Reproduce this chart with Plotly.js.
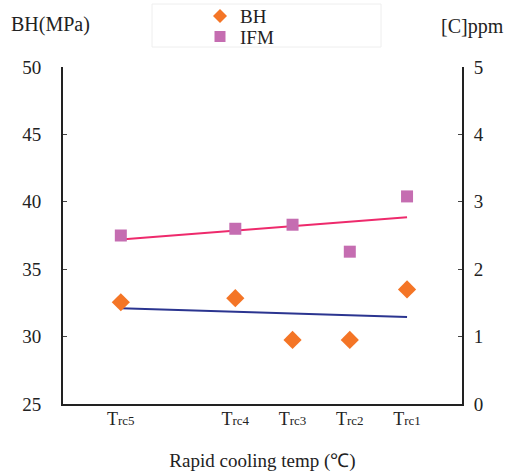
<!DOCTYPE html>
<html>
<head>
<meta charset="utf-8">
<script src="https://cdn.plot.ly/plotly-3.0.1.min.js"></script>
<style>html,body{margin:0;padding:0;background:#fff;}#chart{width:510px;height:474px;}</style>
</head>
<body>
<div id="chart"></div>
<script>
// Categories (rapid cooling temperature levels) and their spacing along the x axis
var categories = ["Trc5", "Trc4", "Trc3", "Trc2", "Trc1"];
var catPos = [0, 2, 3, 4, 5];

// BH (MPa), left axis
var bhValues = [32.55, 32.85, 29.75, 29.75, 33.5];
// IFM ([C] ppm), right axis
var ifmValues = [2.5, 2.6, 2.66, 2.26, 3.08];

// Trend lines (end points)
var trendCats = ["Trc5", "Trc1"];
var bhTrend = [32.1, 31.45];
var ifmTrend = [2.44, 2.77];

var seriesNames = ["BH", "IFM"];

function posOf(c) { return catPos[categories.indexOf(c)]; }
function tickLabel(c) {
  return c.charAt(0) + "<span style='font-size:13px'>" + c.slice(1) + "</span>";
}

var FONT = "Liberation Serif";
var BH_COLOR = "#F47526", IFM_COLOR = "#C56DB1";

var traces = [
  {
    x: trendCats.map(posOf), y: bhTrend, yaxis: "y",
    mode: "lines", line: {color: "#2B3590", width: 2}, showlegend: false, hoverinfo: "skip"
  },
  {
    x: trendCats.map(posOf), y: ifmTrend, yaxis: "y2",
    mode: "lines", line: {color: "#EE2A6C", width: 2}, showlegend: false, hoverinfo: "skip"
  },
  {
    name: seriesNames[0], x: categories.map(posOf), y: bhValues, yaxis: "y",
    mode: "markers", marker: {symbol: "diamond", size: 14, color: BH_COLOR}, showlegend: false
  },
  {
    name: seriesNames[1], x: categories.map(posOf), y: ifmValues, yaxis: "y2",
    mode: "markers", marker: {symbol: "square", size: 12, color: IFM_COLOR}, showlegend: false
  }
];

// pixel -> paper helpers for the legend box
var PL = 63, PR = 462, PT = 67, PB = 404;
function px(x) { return (x - PL) / (PR - PL); }
function py(y) { return (PB - y) / (PB - PT); }

var legendShapes = [
  {type: "rect", xref: "paper", yref: "paper",
   x0: px(152), x1: px(381), y0: py(47), y1: py(4),
   line: {color: "#eeeeee", width: 1}, fillcolor: "rgba(0,0,0,0)", layer: "below"},
  {type: "path", xref: "paper", yref: "paper",
   path: "M" + px(220) + "," + py(9) + " L" + px(227) + "," + py(16) + " L" + px(220) + "," + py(23) + " L" + px(213) + "," + py(16) + " Z",
   fillcolor: BH_COLOR, line: {width: 0}},
  {type: "rect", xref: "paper", yref: "paper",
   x0: px(214.5), x1: px(225.5), y0: py(42), y1: py(31),
   fillcolor: IFM_COLOR, line: {width: 0}}
];

var layout = {
  width: 510, height: 474,
  margin: {l: PL, r: 510 - PR, t: PT, b: 474 - PB, pad: 0, autoexpand: false},
  paper_bgcolor: "#fff", plot_bgcolor: "#fff",
  font: {family: FONT, size: 18, color: "#222"},
  showlegend: false,
  xaxis: {
    range: [-1.01, 5.96], automargin: false,
    tickvals: catPos, ticktext: categories.map(tickLabel),
    showgrid: false, zeroline: false,
    showline: true, linecolor: "#222", linewidth: 2,
    ticks: "", ticklabelstandoff: -3,
    tickfont: {family: FONT, size: 18, color: "#222"},
    title: {text: "Rapid cooling temp (℃)", font: {family: FONT, size: 19, color: "#222"}, standoff: 26}
  },
  yaxis: {
    range: [25, 50], dtick: 5, automargin: false,
    showgrid: false, zeroline: false,
    showline: true, linecolor: "#222", linewidth: 2,
    ticks: "inside", ticklen: 4, tickcolor: "#444", tickwidth: 1,
    ticklabelstandoff: 16,
    tickfont: {family: FONT, size: 19, color: "#222"}
  },
  yaxis2: {
    range: [0, 5], dtick: 1, overlaying: "y", side: "right", automargin: false,
    showgrid: false, zeroline: false,
    showline: true, linecolor: "#222", linewidth: 2,
    ticks: "inside", ticklen: 4, tickcolor: "#444", tickwidth: 1,
    ticklabelstandoff: 6,
    tickfont: {family: FONT, size: 19, color: "#222"}
  },
  shapes: legendShapes,
  annotations: [
    {text: seriesNames[0], xref: "paper", yref: "paper", x: px(238), y: py(16),
     xanchor: "left", yanchor: "middle", showarrow: false,
     font: {family: FONT, size: 19, color: "#222"}},
    {text: seriesNames[1], xref: "paper", yref: "paper", x: px(238), y: py(37),
     xanchor: "left", yanchor: "middle", showarrow: false,
     font: {family: FONT, size: 19, color: "#222"}},
    {text: "BH(MPa)", xref: "paper", yref: "paper", x: px(50), y: py(25),
     xanchor: "center", yanchor: "middle", showarrow: false,
     font: {family: FONT, size: 20, color: "#222"}},
    {text: "[C]ppm", xref: "paper", yref: "paper", x: px(472), y: py(27),
     xanchor: "center", yanchor: "middle", showarrow: false,
     font: {family: FONT, size: 20, color: "#222"}}
  ]
};

Plotly.newPlot("chart", traces, layout, {displayModeBar: false, staticPlot: true});
</script>
</body>
</html>
